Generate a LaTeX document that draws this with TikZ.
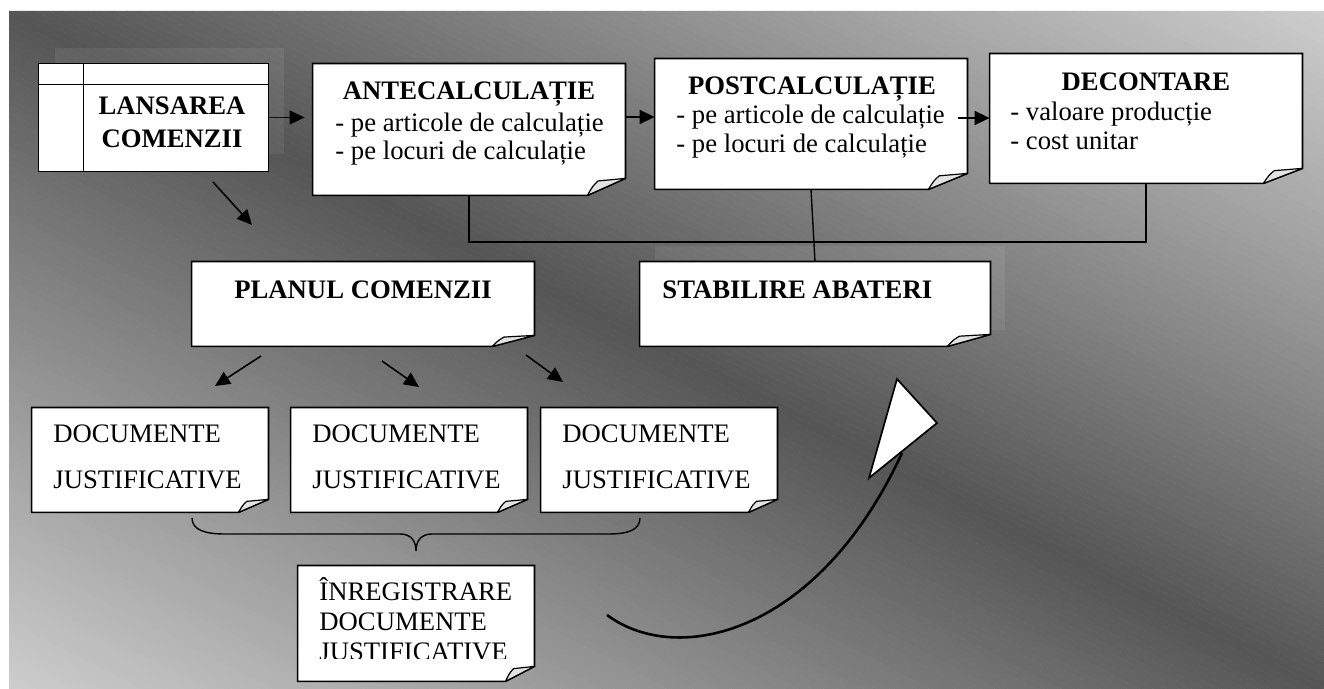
\documentclass[tikz,border=0pt]{standalone}
\usepackage{fontspec}
\setmainfont{Liberation Serif}
\usetikzlibrary{arrows.meta,calc,fit}
\pgfdeclarelayer{backdrop}
\pgfdeclarelayer{under}
\pgfdeclarelayer{veil}
\pgfdeclarelayer{boxes}
\pgfsetlayers{backdrop,under,veil,boxes,main}

% note box with a folded bottom-right corner: name, fold width, fold height
\newcommand\notebox[3]{%
  \draw[boxline,fill=white] (#1.north west) -- (#1.north east)
     -- ($(#1.south east)+(0,-#3)$) -- ($(#1.south east)+(-#2,0)$)
     -- (#1.south west) -- cycle;
  \draw[flapline,fill=gray!22] ($(#1.south east)+(-#2,0)$)
     .. controls ($(#1.south east)+({-0.86*#2},{-0.55*#3})$) .. ($(#1.south east)+({-0.72*#2},{-0.85*#3})$)
     -- ($(#1.south east)+(0,-#3)$) -- cycle;
}

\begin{document}
\begin{tikzpicture}[x=0.5pt,y=-0.5pt,
  boxline/.style={draw=black,line width=0.85pt,line join=miter},
  flapline/.style={draw=black,line width=0.6pt,line join=round},
  area/.style={fit={#1},inner sep=0pt},
  title/.style={font=\fontsize{13.35}{15}\selectfont\bfseries,inner sep=0pt},
  txt/.style={font=\fontsize{13.35}{15}\selectfont,inner sep=0pt},
  arr/.style={line width=0.8pt,-{Triangle[length=7.5pt,width=7pt]}},
  conn/.style={line width=0.7pt}
]
\useasboundingbox (0,0) rectangle (1324,689);

% backdrop: white page with a diagonal grey gradient panel
\begin{pgfonlayer}{backdrop}
\fill[white] (0,0) rectangle (1324,689);
\begin{scope}
\clip (9,11) rectangle (1324,689);
\foreach \i in {0,...,199}{
  \pgfmathsetmacro\stA{-1+\i/100}
  \pgfmathsetmacro\stB{\stA+0.0105}
  \pgfmathsetmacro\stG{(85+120*abs(\stA+0.005))/255}
  \definecolor{stripc}{gray}{\stG}
  \fill[stripc] ({9+\stA*1315},11) -- ({9+\stB*1315},11)
     -- ({9+(\stB+1)*1315},689) -- ({9+(\stA+1)*1315},689) -- cycle;
}
\end{scope}
\end{pgfonlayer}

% box areas
\node[area={(39,64)(268,171)}] (lans) {};
\node[area={(313,64)(625,195)}] (ante) {};
\node[area={(655,59)(967,189)}] (post) {};
\node[area={(990,54)(1302,183)}] (dec) {};
\node[area={(192,262)(534,346)}] (plan) {};
\node[area={(640,262)(990,346)}] (stab) {};
\node[area={(32,408)(268,512)}] (doc1) {};
\node[area={(291,408)(527,512)}] (doc2) {};
\node[area={(541,408)(777,512)}] (doc3) {};
\node[area={(298,566)(534,681)}] (inreg) {};

% light veils behind two boxes
\begin{pgfonlayer}{veil}
\fill[white,opacity=0.07] ($(lans.north west)+(16,-16)$) rectangle ($(lans.south east)+(16,-17)$);
\fill[white,opacity=0.07] ($(stab.north west)+(15,-16)$) rectangle ($(stab.south east)+(15,-16)$);
\end{pgfonlayer}

% boxes
\begin{pgfonlayer}{boxes}
\draw[boxline,fill=white] (lans.north west) rectangle (lans.south east);
\draw[boxline] ($(lans.north west)+(0,21)$) -- ($(lans.north east)+(0,21)$);
\draw[boxline] ($(lans.north west)+(45,0)$) -- ($(lans.south west)+(45,0)$);
\notebox{ante}{38}{17}
\notebox{post}{39}{16}
\notebox{dec}{39}{15}
\notebox{plan}{42}{11}
\notebox{stab}{43}{12}
\notebox{doc1}{30}{13}
\notebox{doc2}{30}{13}
\notebox{doc3}{29}{13}
\notebox{inreg}{29}{15}
\end{pgfonlayer}

% texts
\node[title,anchor=base] (lans-a) at (172,115) {LANSAREA};
\node[title,anchor=base] (lans-b) at (172,148) {COMENZII};

\node[title,anchor=base] (ante-t) at (469,100) {ANTECALCULAȚIE};
\node[txt,anchor=base west] (ante-1) at (335,132) {- pe articole de calculație};
\node[txt,anchor=base west] (ante-2) at (335,160) {- pe locuri de calculație};

\node[title,anchor=base] (post-t) at (812,95) {POSTCALCULAȚIE};
\node[txt,anchor=base west] (post-1) at (676,124) {- pe articole de calculație};
\node[txt,anchor=base west] (post-2) at (676,153) {- pe locuri de calculație};

\node[title,anchor=base] (dec-t) at (1146,91) {DECONTARE};
\node[txt,anchor=base west] (dec-1) at (1010,121) {- valoare producție};
\node[txt,anchor=base west] (dec-2) at (1010,150) {- cost unitar};

\node[title,anchor=base] (plan-t) at (363,299) {PLANUL COMENZII};
\node[title,anchor=base west] (stab-t) at (662,299) {STABILIRE ABATERI};

\node[txt,anchor=base west] (doc1-a) at (53,443) {DOCUMENTE};
\node[txt,anchor=base west] (doc1-b) at (53,489) {JUSTIFICATIVE};
\node[txt,anchor=base west] (doc2-a) at (312,443) {DOCUMENTE};
\node[txt,anchor=base west] (doc2-b) at (312,489) {JUSTIFICATIVE};
\node[txt,anchor=base west] (doc3-a) at (562,443) {DOCUMENTE};
\node[txt,anchor=base west] (doc3-b) at (562,489) {JUSTIFICATIVE};

\node[txt,anchor=base west] (inreg-a) at (319,601) {ÎNREGISTRARE};
\node[txt,anchor=base west] (inreg-b) at (319,631) {DOCUMENTE};
\begin{scope}
\clip (inreg.north west) rectangle ($(inreg.east |- 0,659)$);
\node[txt,anchor=base west] (inreg-c) at (319,661) {JUSTIFICATIVE};
\end{scope}

% connectors along the top row
\begin{pgfonlayer}{under}
\draw[arr] (lans.east) -- ($(ante.west |- lans.east)+(-8,0)$);
\end{pgfonlayer}
\draw[arr] (ante.east |- 0,117) -- (post.west |- 0,117);
\draw[arr] ($(post.east |- 0,118)+(-9,0)$) -- (dec.west |- 0,118);

% link of the three calculations to the deviations box
\draw[conn] (ante.south) -- (ante.south |- 0,242) -- (dec.south |- 0,242) -- (dec.south);
\draw[conn] (post.south) -- (stab.north);

% launch -> plan -> documents
\coordinate (lp-s) at (213,182);
\coordinate (lp-e) at (252,225);
\draw[arr] (lp-s) -- (lp-e);
\coordinate (pd1-s) at (261,356);
\coordinate (pd1-e) at (215,386);
\coordinate (pd2-s) at (382,361);
\coordinate (pd2-e) at (419,387);
\coordinate (pd3-s) at (526,355);
\coordinate (pd3-e) at (563,382);
\draw[arr] (pd1-s) -- (pd1-e);
\draw[arr] (pd2-s) -- (pd2-e);
\draw[arr] (pd3-s) -- (pd3-e);

% brace gathering the documents
\coordinate (br-l) at (192,518);
\coordinate (br-r) at (640,518);
\coordinate (br-tip) at (416,551);
\draw[conn] (br-l) .. controls (192,530) and (205,534) .. (225,534) -- (400,534)
  .. controls (411,534) and (416,541) .. (br-tip)
  .. controls (416,541) and (421,534) .. (432,534) -- (608,534)
  .. controls (628,534) and (640,530) .. (br-r);

% large curved arrow
\coordinate (ca-s) at (607,615);
\coordinate (ca-e) at (902,453);
\draw[line width=1.3pt] (ca-s) .. controls (677,667) and (818,635) .. (ca-e);
\draw[boxline,fill=white] (897,379) -- (937,423) -- (869,478) -- cycle;

\end{tikzpicture}
\end{document}
